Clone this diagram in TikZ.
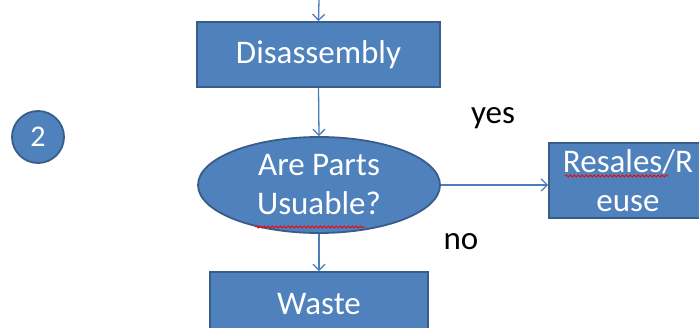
\documentclass[tikz,border=0pt]{standalone}
\usepackage{fontspec}
\setmainfont{Carlito}
\usetikzlibrary{arrows.meta,shapes.geometric,decorations.pathmorphing}
\definecolor{boxfill}{HTML}{4F81BD}
\definecolor{boxline}{HTML}{385D8A}
\definecolor{linkcol}{HTML}{4A7EBB}
\tikzset{
  flowbox/.style={draw=boxline, line width=1.8pt, fill=boxfill, text=white,
    inner sep=0pt, font=\fontsize{33}{39}\selectfont, align=center},
  decision/.style={flowbox, ellipse},
  link/.style={draw=linkcol, line width=1.3pt,
    -{Straight Barb[length=6pt,width=12pt,line width=1.3pt]}},
  answer/.style={font=\fontsize{33}{39}\selectfont, text=black, inner sep=0pt},
  spellmark/.style={draw=red, line width=0.8pt,
    decorate, decoration={snake, amplitude=1.1pt, segment length=4pt}}
}
\begin{document}
\begin{tikzpicture}[x=1pt, y=-1pt]
  \useasboundingbox (0,0) rectangle (699,327);
  \clip (0,0) rectangle (699,327);

  % step marker
  \node[flowbox, circle, minimum size=52pt, font=\fontsize{30}{34}\selectfont]
    (step2) at (38,137) {2};

  % flow nodes
  \coordinate (entry) at (319,0);
  \node[flowbox, minimum width=243pt, minimum height=65pt]
    (disasm) at (318.5,54.5) {Disassembly};
  \node[decision, minimum width=242pt, minimum height=96pt]
    (usable) at (319,185) {Are Parts\\Usuable?};
  \node[flowbox, minimum width=218pt, minimum height=65pt]
    (waste) at (319,304.5) {Waste};
  \node[flowbox, minimum width=158pt, minimum height=75pt]
    (resale) at (628,180.5) {Resales/R\\euse};

  % connectors
  \draw[link] (entry) -- (disasm.north);
  \draw[link] (disasm.south) -- (usable.north);
  \draw[link] (usable.south) -- (waste.north);
  \draw[link] (usable.east) -- (usable.east -| resale.west);

  % branch labels
  \node[answer] (yeslbl) at (493,118) {yes};
  \node[answer] (nolbl) at (461,242) {no};

  % spell-check squiggles
  \draw[spellmark] (255,227) -- (365,227);
  \draw[spellmark] (565,176) -- (668,176);
\end{tikzpicture}
\end{document}
